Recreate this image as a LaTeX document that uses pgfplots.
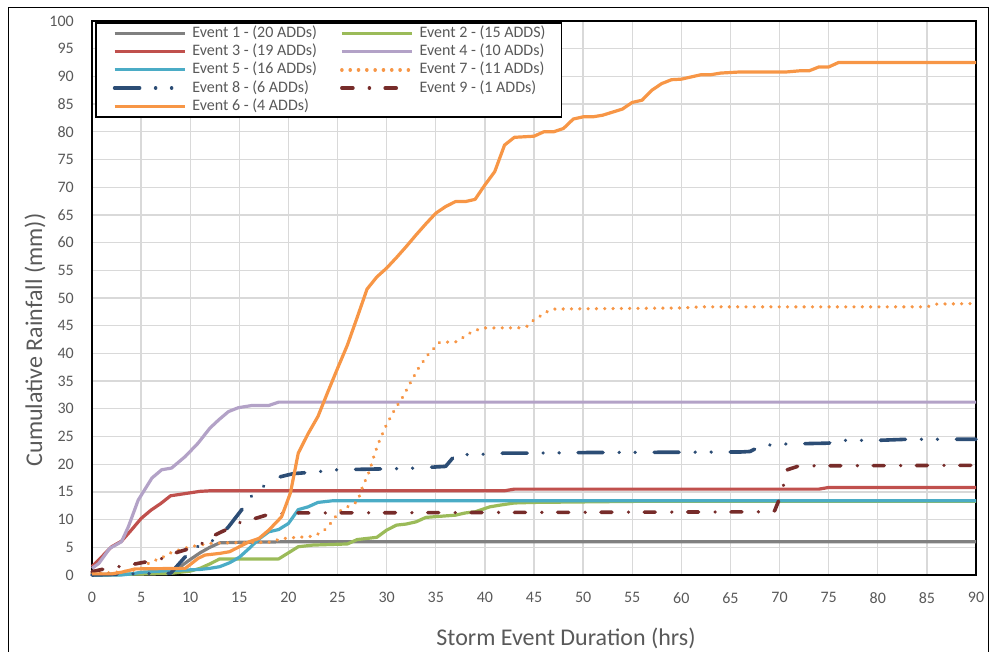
\documentclass[border=0pt]{standalone}
\usepackage{fontspec}
\setmainfont{Carlito}
\usepackage{pgfplots}
\pgfplotsset{compat=1.18}
\definecolor{c1}{HTML}{808080}
\definecolor{c2}{HTML}{9BBB59}
\definecolor{c3}{HTML}{C0504D}
\definecolor{c4}{HTML}{B3A2C7}
\definecolor{c5}{HTML}{4BACC6}
\definecolor{c6}{HTML}{F79646}
\definecolor{c8}{HTML}{2C4D75}
\definecolor{c9}{HTML}{772C2A}
\definecolor{gridgray}{HTML}{D9D9D9}
\definecolor{labelgray}{HTML}{595959}
\begin{document}
\begin{tikzpicture}[x=1pt,y=1pt]
\useasboundingbox (0,0) rectangle (992,652);
\draw[line width=1pt, black] (8.5,0) -- (8.5,644.5) -- (988.5,644.5) -- (988.5,0);
\begin{axis}[
  at={(92pt,77pt)}, anchor=south west,
  width=884pt, height=554pt, scale only axis,
  xmin=0, xmax=90, ymin=0, ymax=100,
  xtick={0,5,...,90}, ytick={0,5,...,100},
  grid=major, major grid style={color=gridgray, line width=1.3pt},
  axis line style={black, line width=2pt},
  major tick length=0pt,
  clip=false,
  /pgf/number format/assume math mode=true,
  tick label style={font=\fontsize{16}{19}\selectfont, text=labelgray, inner sep=0pt},
  xticklabel style={yshift=-17pt},
  yticklabel style={xshift=-18pt},
  legend columns=2,
  legend cell align=left,
  legend image code/.code={\path (-7pt,0pt); \draw[#1] (0pt,0pt) -- (70pt,0pt);},
  legend style={at={(0.0034,0.998)}, anchor=north west, draw=black, line width=1.6pt,
    fill=white, inner xsep=10pt, inner ysep=2.5pt,
    font=\fontsize{16}{19}\selectfont, text=labelgray, row sep=2.25pt,
    nodes={inner xsep=6pt, inner ysep=0pt, text height=12pt, text depth=4pt},
    /tikz/every even column/.append style={column sep=10pt}},
  every axis plot/.append style={line join=round},
]
% Event 1
\addplot[c1, line width=3.2pt] table {
0 0
8 0.3
9 1.5
10 2.8
11 4.0
12 5.0
13 5.8
15 5.9
20 6.0
90 6.0
};
\addlegendentry{Event 1 - (20 ADDs)}
% Event 2
\addplot[c2, line width=3.2pt] table {
0 0
8 0.3
10 0.7
11 1.2
12 2.0
13 2.9
19 2.9
20 4.0
21 5.1
22.5 5.4
26 5.6
27 6.4
29 6.8
30 8.1
31 9.0
32 9.2
33 9.6
34 10.4
35.5 10.6
37 10.8
38 11.2
39 11.4
40.5 12.3
41.5 12.6
43 13.0
45 13.1
56 13.3
90 13.3
};
\addlegendentry{Event 2 - (15 ADDS)}
% Event 3
\addplot[c3, line width=3.2pt] table {
0 1.5
1 3.3
2 5.1
3 6.1
4 8.1
5 10.2
6 11.7
7 12.9
8 14.3
9.5 14.7
11 15.1
12 15.2
42 15.2
43 15.5
74 15.5
75 15.8
90 15.8
};
\addlegendentry{Event 3 - (19 ADDs)}
% Event 4
\addplot[c4, line width=3.2pt] table {
0 1.2
0.7 2.1
1.8 4.8
3 6.0
3.7 8.7
4.7 13.5
6.1 17.5
7.1 19.0
8.1 19.3
9.5 21.4
10.8 23.8
12 26.5
12.9 28.0
13.9 29.5
14.9 30.2
16.3 30.6
18 30.6
19 31.2
90 31.2
};
\addlegendentry{Event 4 - (10 ADDs)}
% Event 5
\addplot[c5, line width=3.2pt] table {
0 0
3 0
4 0.2
5 0.5
8 0.8
11 1.0
12 1.2
13 1.5
14 2.2
15 3.2
16 4.8
17 6.5
18 7.8
19 8.2
20 9.3
21 11.8
22 12.3
23 13.1
24.5 13.4
90 13.4
};
\addlegendentry{Event 5 - (16 ADDs)}
% Event 7
\addplot[c6, line width=3.6pt, line cap=round, dash pattern=on 0.01pt off 8.3pt] table {
0 0.3
2 0.4
3 0.6
4 0.8
5 1.2
6 2.4
7 3.0
8 4.0
9 4.6
10 5.1
11 5.4
12 5.7
13.5 5.8
18 5.9
19 6.4
20 6.7
21 6.8
22.5 7.0
23.5 7.8
24 8.7
24.6 10.0
25.1 11.4
26 12.3
27 13.2
27.3 14.6
27.6 16.2
28 17.7
28.3 19.0
28.5 20.3
28.8 22.0
29.3 24.4
30 27.2
30.8 29.8
31.7 32.3
32.5 35.0
33.3 37.5
34.3 40.0
35.4 42.0
37.1 42.1
37.8 42.9
38.5 43.7
39.3 44.3
40 44.6
43.4 44.6
44.3 44.9
44.9 45.9
45.6 46.7
46.3 47.5
47 48.0
60 48.2
62 48.4
85 48.4
86 48.9
90 49.0
};
\addlegendentry{Event 7 - (11 ADDs)}
% Event 8
\addplot[c8, line width=3.6pt, line cap=round, dash pattern=on 25pt off 16pt on 0.01pt off 16pt on 0.01pt off 19pt] table {
0 0
4 0.2
7 0.3
8 0.3
9.8 3.9
11.2 5.7
12.7 6.4
13.9 8.7
15.6 12.6
16.5 14.9
17.8 16.4
19.1 17.7
20.5 18.3
22 18.5
24 18.8
25 19.0
28 19.1
31 19.2
33 19.3
34 19.4
36 19.6
37 21.7
40 21.8
42 22.0
45 22.0
50 22.1
66 22.2
67 22.3
68 23.2
69.5 23.6
75 23.8
76 24.3
80 24.3
83 24.5
90 24.5
};
\addlegendentry{Event 8 - (6 ADDs)}
% Event 9
\addplot[c9, line width=3.6pt, line cap=round, dash pattern=on 11pt off 16.5pt on 0.01pt off 15.8pt] table {
0 0.6
1 1.0
2 1.3
3 1.6
4.4 2.0
5.6 2.4
7.2 3.0
8.5 4.0
9.8 4.7
11.2 5.7
12.5 7.2
13.9 8.4
15.2 9.6
16.8 10.3
18.1 11.0
21 11.2
69 11.4
69.5 11.6
70 13.8
70.4 16.2
70.8 19.0
72 19.7
90 19.8
};
\addlegendentry{Event 9 - (1 ADDs)}
% Event 6
\addplot[c6, line width=3.2pt] table {
0 0.2
2 0.2
3 0.5
4.4 1.1
9.5 1.2
10.8 3.0
11.5 3.6
12 3.7
13 3.9
14 4.2
15 5.1
16 6.0
17 6.6
18 8.1
19.3 10.5
20.2 14.8
21 22.0
22 25.5
23 28.6
24 33.0
25 37.3
26 41.5
27 46.5
28 51.6
29 53.8
30 55.4
31 57.3
32 59.3
33 61.4
34 63.4
35 65.3
36 66.5
37 67.4
38 67.4
39 67.8
40 70.4
41 72.8
42 77.6
43 79.0
45 79.2
46 80.0
47 80.0
48 80.6
49 82.3
50 82.7
51 82.7
52 83.0
54 84.1
55 85.3
56 85.7
57 87.5
58 88.7
59 89.4
60 89.5
62 90.3
63 90.3
64 90.6
66 90.8
70.7 90.8
72 91.0
73 91.0
74 91.7
75 91.7
76 92.5
90 92.5
};
\addlegendentry{Event 6 - (4 ADDs)}
\end{axis}
\node[font=\fontsize{24}{28}\selectfont, text=labelgray, rotate=90] at (35,312) {Cumulative Rainfall (mm))};
\node[font=\fontsize{24}{28}\selectfont, text=labelgray] at (566,14) {Storm Event Duration (hrs)};
\end{tikzpicture}
\end{document}
